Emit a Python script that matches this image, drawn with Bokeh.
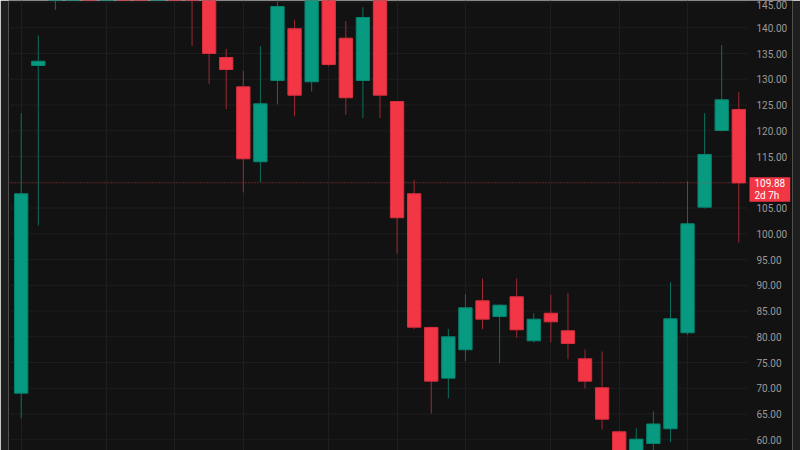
import numpy as np
from bokeh.plotting import figure
from bokeh.models import (ColumnDataSource, Range1d, FixedTicker, PrintfTickFormatter, Label)
from bokeh.embed import file_html
from bokeh.resources import INLINE

# ---- data (weekly candles, index = bar number) ----
opens = [69.05, 132.68, 146.0, 160.0, 168.0, 165.0, 178.0, 171.0, 162.0, 166.0,
         158.0, 150.0, 134.23, 128.54, 113.98, 129.77, 139.81, 129.51, 151.0, 137.98,
         129.77, 149.0, 125.69, 107.77, 81.81, 71.96, 77.48, 86.99, 83.94, 87.77,
         79.22, 84.58, 81.17, 75.73, 70.10, 61.55, 56.8, 59.28, 62.14, 80.78,
         105.17, 120.06, 124.14]
highs = [123.42, 138.5, 165.0, 171.0, 176.0, 182.0, 185.0, 174.0, 170.0, 168.0,
         161.0, 152.0, 135.92, 131.65, 136.43, 146.5, 141.55, 153.0, 154.0, 141.28,
         144.0, 152.0, 125.8, 110.49, 81.9, 81.55, 88.27, 91.32, 86.27, 91.32,
         84.58, 88.16, 88.54, 77.53, 77.15, 61.81, 62.25, 65.50, 90.60, 110.16,
         123.42, 136.62, 127.50]
lows = [64.19, 101.61, 143.5, 155.0, 162.0, 163.0, 168.0, 159.0, 152.0, 155.0,
        136.43, 129.13, 124.19, 108.02, 110.02, 125.11, 122.83, 127.63, 132.54, 123.11,
        122.45, 122.45, 96.12, 81.48, 65.05, 68.08, 75.26, 81.48, 74.87, 79.81,
        78.89, 78.95, 75.65, 69.96, 62.0, 54.0, 54.5, 57.0, 59.53, 80.39,
        104.91, 119.86, 98.31]
closes = [107.77, 133.51, 160.0, 168.0, 165.0, 178.0, 171.0, 162.0, 166.0, 158.0,
          150.0, 135.01, 131.90, 114.56, 125.24, 144.14, 126.91, 150.0, 132.87, 126.41,
          142.0, 126.91, 103.11, 81.86, 71.38, 80.0, 85.63, 83.42, 86.14, 81.36,
          83.42, 82.91, 78.70, 71.38, 64.0, 56.5, 60.12, 63.07, 83.50, 101.94,
          115.40, 126.02, 109.88]
month_start_bars = [0, 5, 9, 13, 18, 22, 26, 31, 35, 39]
price_ticks = list(range(60, 150, 5))
last_price = 109.88
countdown = "2d 7h"

GREEN = "#089981"
RED = "#f23645"
BG = "#121212"
GRID = "#1e1e1e"

X_START, X_END = -0.743, 45.143      # visible bar range (frame)
CHART_END = 42.509                   # where the price scale strip begins

idx = np.arange(len(opens))
o = np.array(opens)
c = np.array(closes)
up = c >= o
src = ColumnDataSource(dict(
    x=idx,
    top=np.maximum(o, c),
    bottom=np.minimum(o, c),
    high=np.array(highs),
    low=np.array(lows),
    fill=[GREEN if u else RED for u in up],
    edge=["#07846f" if u else "#d8303f" for u in up],
    wick=["#0a6f5d" if u else "#9e2833" for u in up],
))
grid_src = ColumnDataSource(dict(
    y=price_ticks,
    x0=[X_START] * len(price_ticks),
    x1=[CHART_END] * len(price_ticks),
))

p = figure(width=800, height=450, output_backend="svg", toolbar_location=None,
           x_range=Range1d(X_START, X_END), y_range=Range1d(57.92, 145.30),
           x_axis_location=None, y_axis_location="right",
           background_fill_color=BG, border_fill_color="#1f1f1f",
           min_border_left=8, min_border_right=8, min_border_top=0, min_border_bottom=0)
p.outline_line_color = None

# price scale drawn at the right edge of the candle area
ax = p.yaxis[0]
ax.fixed_location = CHART_END
ax.ticker = FixedTicker(ticks=price_ticks)
ax.formatter = PrintfTickFormatter(format="%.2f")
ax.axis_line_color = None
ax.major_tick_line_color = None
ax.minor_tick_line_color = None
ax.major_tick_out = 0
ax.major_tick_in = 0
ax.major_label_standoff = 9
ax.major_label_text_font = "Roboto"
ax.major_label_text_font_size = "10px"
ax.major_label_text_color = "#9a9a9a"

p.ygrid.visible = False
p.xgrid.ticker = FixedTicker(ticks=month_start_bars)
p.xgrid.grid_line_color = GRID

# horizontal price grid, stopping at the price scale
p.segment(x0="x0", y0="y", x1="x1", y1="y", line_color=GRID, line_width=1, source=grid_src)

p.segment(x0="x", y0="low", x1="x", y1="high", line_color="wick", line_width=1, source=src)
p.vbar(x="x", width=0.78, top="top", bottom="bottom", fill_color="fill",
       line_color="edge", line_width=1, source=src)

# last price line
p.segment(x0=[X_START], y0=[last_price], x1=[CHART_END], y1=[last_price],
          line_color=RED, line_alpha=0.6, line_dash="1 2", line_width=1)

p.add_layout(Label(x=741, y=last_price, x_units="screen", y_units="data",
                   text=f"{last_price:.2f}\n{countdown}", anchor="top_left",
                   y_offset=5.6, padding=(5, 1), text_font="Roboto",
                   text_font_size="10px", text_color="#ffffff", text_line_height=1.05,
                   background_fill_color=RED))

open("out.html", "w").write(file_html(p, INLINE))
